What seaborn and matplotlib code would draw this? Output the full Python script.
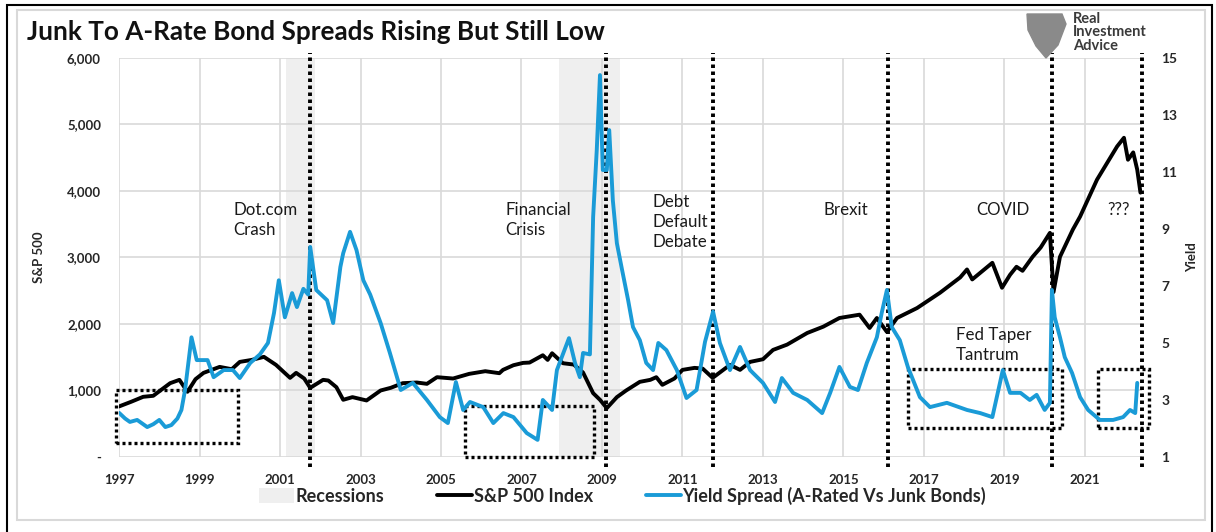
import matplotlib
matplotlib.use("Agg")
import matplotlib.pyplot as plt
import seaborn as sns
import pandas as pd
from matplotlib.patches import Patch, Rectangle, Polygon
from matplotlib.lines import Line2D

# ---- data ----
sp_years = [1997.0, 1997.3, 1997.6, 1997.85, 1998.27, 1998.5, 1998.7, 1998.9, 1999.1, 1999.5,
            1999.8, 2000.0, 2000.3, 2000.6, 2000.9, 2001.25, 2001.4, 2001.6, 2001.75, 2002.07,
            2002.2, 2002.4, 2002.57, 2002.8, 2003.15, 2003.5, 2003.75, 2004.05, 2004.4, 2004.65,
            2004.9, 2005.3, 2005.7, 2006.1, 2006.45, 2006.54, 2006.8, 2007.04, 2007.2, 2007.53,
            2007.65, 2007.76, 2008.03, 2008.3, 2008.53, 2008.78, 2008.95, 2009.12, 2009.37, 2009.6,
            2009.94, 2010.2, 2010.35, 2010.5, 2010.8, 2011.0, 2011.3, 2011.5, 2011.75, 2012.18,
            2012.43, 2012.68, 2013.0, 2013.25, 2013.6, 2014.1, 2014.5, 2014.9, 2015.4, 2015.65,
            2015.83, 2016.08, 2016.33, 2016.83, 2017.4, 2017.9, 2018.07, 2018.2, 2018.7, 2018.94,
            2019.14, 2019.3, 2019.45, 2019.7, 2019.9, 2020.13, 2020.22, 2020.38, 2020.7, 2020.88,
            2021.3, 2021.6, 2021.8, 2021.97, 2022.07, 2022.2, 2022.3, 2022.38]
sp_values = [760, 830, 905, 920, 1110, 1160, 980, 1170, 1265, 1355,
             1320, 1430, 1460, 1506, 1385, 1190, 1265, 1180, 1040, 1160,
             1150, 1050, 860, 900, 850, 1000, 1040, 1110, 1120, 1100,
             1200, 1180, 1250, 1290, 1260, 1310, 1380, 1415, 1420, 1530,
             1460, 1560, 1410, 1390, 1270, 960, 860, 735, 900, 1000,
             1130, 1160, 1200, 1085, 1180, 1310, 1340, 1330, 1190, 1385,
             1310, 1430, 1470, 1610, 1690, 1865, 1960, 2090, 2140, 1940,
             2090, 1880, 2090, 2240, 2470, 2700, 2820, 2670, 2920, 2545,
             2740, 2860, 2800, 3010, 3150, 3370, 2480, 3010, 3420, 3615,
             4170, 4470, 4670, 4800, 4470, 4580, 4320, 3975]

spread_years = [1997.0, 1997.15, 1997.27, 1997.45, 1997.7, 1997.85, 1998.0, 1998.15, 1998.3, 1998.45,
                1998.55, 1998.64, 1998.8, 1998.93, 1999.2, 1999.35, 1999.6, 1999.83, 2000.0, 2000.26,
                2000.5, 2000.7, 2000.85, 2000.97, 2001.12, 2001.3, 2001.42, 2001.58, 2001.7, 2001.75,
                2001.9, 2002.17, 2002.32, 2002.5, 2002.57, 2002.74, 2002.9, 2003.07, 2003.24, 2003.5,
                2003.73, 2004.0, 2004.3, 2004.65, 2004.97, 2005.17, 2005.37, 2005.55, 2005.72, 2006.05,
                2006.3, 2006.55, 2006.8, 2007.13, 2007.4, 2007.53, 2007.76, 2007.88, 2008.0, 2008.18,
                2008.33, 2008.45, 2008.53, 2008.7, 2008.78, 2008.87, 2008.95, 2009.02, 2009.12, 2009.18,
                2009.27, 2009.37, 2009.5, 2009.65, 2009.77, 2009.94, 2010.1, 2010.27, 2010.4, 2010.6,
                2010.86, 2011.1, 2011.35, 2011.56, 2011.76, 2011.93, 2012.18, 2012.43, 2012.68, 2012.75,
                2013.0, 2013.3, 2013.47, 2013.75, 2014.1, 2014.47, 2014.67, 2014.9, 2015.16, 2015.36,
                2015.58, 2015.83, 2015.95, 2016.08, 2016.2, 2016.4, 2016.6, 2016.9, 2017.15, 2017.57,
                2018.07, 2018.4, 2018.7, 2018.96, 2019.14, 2019.4, 2019.63, 2019.8, 2020.0, 2020.13,
                2020.18, 2020.25, 2020.38, 2020.5, 2020.68, 2020.88, 2021.08, 2021.37, 2021.7, 2021.95,
                2022.12, 2022.25, 2022.3]
spread_values = [2.55, 2.35, 2.23, 2.30, 2.05, 2.15, 2.30, 2.05, 2.12, 2.35,
                 2.65, 3.35, 5.2, 4.4, 4.4, 3.8, 4.05, 4.05, 3.77, 4.3,
                 4.6, 5.0, 6.05, 7.2, 5.9, 6.75, 6.26, 6.9, 6.7, 8.37,
                 6.86, 6.5, 5.7, 7.67, 8.15, 8.9, 8.26, 7.2, 6.7, 5.7,
                 4.65, 3.35, 3.6, 3.0, 2.4, 2.19, 3.63, 2.65, 2.93, 2.75,
                 2.19, 2.54, 2.4, 1.84, 1.6, 3.0, 2.65, 4.05, 4.5, 5.17,
                 4.3, 3.8, 4.65, 4.6, 9.42, 11.77, 14.4, 11.07, 11.07, 12.47,
                 10.0, 8.5, 7.56, 6.5, 5.56, 5.1, 4.3, 4.05, 5.0, 4.75,
                 4.05, 3.07, 3.35, 5.04, 6.1, 5.0, 4.05, 4.86, 4.05, 3.95,
                 3.6, 2.93, 3.77, 3.25, 3.0, 2.54, 3.25, 4.16, 3.46, 3.35,
                 4.3, 5.2, 6.05, 6.86, 5.56, 5.1, 4.16, 3.1, 2.75, 2.9,
                 2.65, 2.54, 2.4, 4.05, 3.25, 3.25, 3.0, 3.18, 2.65, 2.9,
                 6.86, 5.9, 5.2, 4.5, 3.95, 3.1, 2.65, 2.3, 2.3, 2.4,
                 2.65, 2.54, 3.6]

recession_starts = [2001.15, 2007.93]
recession_ends = [2001.87, 2009.45]
event_lines = [2001.75, 2009.1, 2011.76, 2016.1, 2020.18, 2022.42]
# dotted boxes: (x start, y low, width, height) on the S&P axis
boxes = [(1996.93, 210, 3.03, 790), (2005.6, 0, 3.2, 770),
         (2016.6, 437, 3.83, 888), (2021.32, 437, 1.28, 888)]
events = [("Dot.com\nCrash", 1999.85, 3830), ("Financial\nCrisis", 2006.6, 3830),
          ("Debt\nDefault\nDebate", 2010.25, 3950), ("Brexit", 2014.5, 3830),
          ("COVID", 2018.3, 3830), ("???", 2021.55, 3830),
          ("Fed Taper\nTantrum", 2017.8, 1960)]
year_ticks = list(range(1997, 2023, 2))

BLUE = "#1a9bd7"

sns.set_theme(style="white")
plt.rcParams["font.family"] = ["Lato", "DejaVu Sans"]

sp = pd.DataFrame({"year": sp_years, "sp500": sp_values})
spread = pd.DataFrame({"year": spread_years, "spread": spread_values})

fig = plt.figure(figsize=(12.16, 5.32), dpi=100)
ax = fig.add_axes([0.0979, 0.141, 0.8413, 0.750])
ax2 = ax.twinx()

for start, end in zip(recession_starts, recession_ends):
    ax.axvspan(start, end, color="#efefef", zorder=0, lw=0)

sns.lineplot(data=sp, x="year", y="sp500", ax=ax, color="black", lw=2.8, estimator=None, zorder=3)
sns.lineplot(data=spread, x="year", y="spread", ax=ax2, color=BLUE, lw=2.8, estimator=None, zorder=3)

for x in event_lines:
    ax.plot([x, x], [-150, 6080], ls=(0, (0.9, 0.9)), color="black", lw=2.8,
            clip_on=False, zorder=4)
for x0, y0, w, h in boxes:
    ax.add_patch(Rectangle((x0, y0), w, h, fill=False, ls=(0, (0.9, 0.9)), lw=2.4,
                           edgecolor="black", clip_on=False, zorder=4))

for label, x, y in events:
    ax.text(x, y, label, fontsize=12.2, color="#1a1a1a", va="top", ha="left",
            linespacing=1.3, zorder=5)

ax.set_xlim(1997, 2022.42)
ax.set_ylim(0, 6000)
ax2.set_ylim(1, 15)

ax.set_xticks(year_ticks)
ax.set_xticklabels([str(y) for y in year_ticks], fontsize=9.5, fontweight="bold")
ax.set_yticks(range(0, 6001, 1000))
ax.set_yticklabels(["-"] + [f"{v:,}" for v in range(1000, 6001, 1000)],
                   fontsize=9.5, fontweight="bold")
ax2.set_yticks(range(1, 16, 2))
ax2.set_yticklabels([str(v) for v in range(1, 16, 2)], fontsize=10, fontweight="bold")
ax.tick_params(axis="x", length=0, pad=12)
ax.tick_params(axis="y", length=0, pad=13)
ax2.tick_params(axis="y", length=0, pad=14)
ax.set_xlabel("")
ax.set_ylabel("S&P 500", fontsize=9.5, fontweight="bold")
ax.yaxis.set_label_coords(-0.072, 0.5)
ax2.set_ylabel("Yield", fontsize=9.5, fontweight="bold")
ax2.yaxis.set_label_coords(1.043, 0.5)

ax.grid(True, color="#d9d9d9", lw=1.2)
ax.set_axisbelow(True)
for a in (ax, ax2):
    for s in a.spines.values():
        s.set_visible(False)
ax2.grid(False)

fig.text(27 / 1216, 1 - 32 / 532, "Junk To A-Rate Bond Spreads Rising But Still Low",
         fontsize=18.8, fontweight="bold", va="center", ha="left", color="#111111")

# logo
shield = [(1027, 14), (1062, 14), (1066, 24), (1058, 45), (1046, 58), (1036, 46), (1028, 30)]
fig.patches.append(Polygon([(x / 1216, 1 - y / 532) for x, y in shield], closed=True,
                           transform=fig.transFigure, color="#8a8a8a", zorder=1))
fig.text(1073 / 1216, 1 - 12 / 532, "Real\nInvestment\nAdvice", fontsize=10.5,
         fontweight="bold", color="#3a3a3a", va="top", ha="left", linespacing=0.95)

handles = [Patch(facecolor="#efefef", edgecolor="none", label="Recessions"),
           Line2D([], [], color="black", lw=2.8, label="S&P 500 Index"),
           Line2D([], [], color=BLUE, lw=2.8, label="Yield Spread (A-Rated Vs Junk Bonds)")]
leg = fig.legend(handles=handles, loc="center", bbox_to_anchor=(0.512, 0.068), ncol=3,
                 frameon=False, handlelength=1.95, handleheight=0.9, handletextpad=0.1,
                 columnspacing=2.9, prop={"size": 13, "weight": "bold"})

# outer frames
fig.patches.append(Rectangle((17 / 1216, 1 - 520 / 532), 1188 / 1216, 510 / 532, fill=False,
                             edgecolor="#d9d9d9", lw=1.5, transform=fig.transFigure))
fig.patches.append(Rectangle((7 / 1216, -0.01), 1205 / 1216, 1 - 5 / 532 + 0.01, fill=False,
                             edgecolor="black", lw=1.5, transform=fig.transFigure))

fig.savefig("out.png", dpi=100)
